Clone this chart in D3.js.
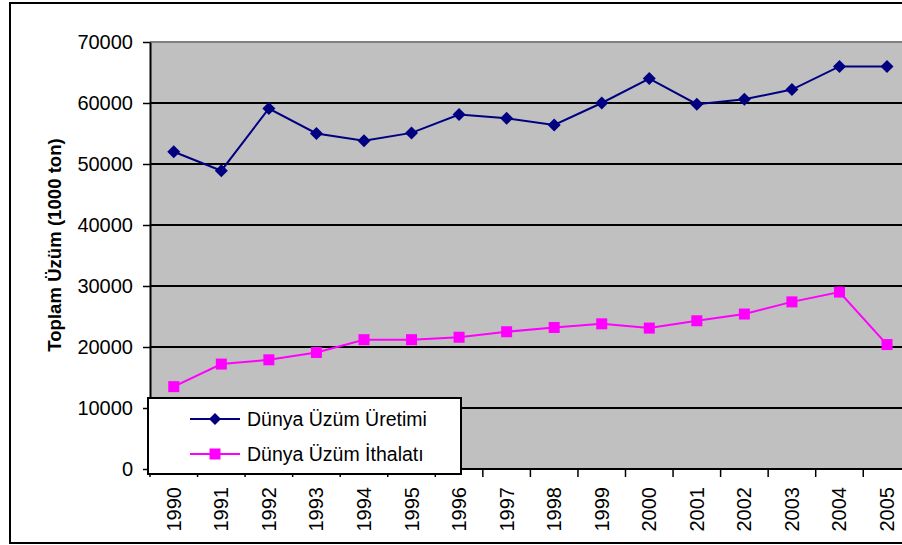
<!DOCTYPE html>
<html>
<head>
<meta charset="utf-8">
<script src="https://cdn.jsdelivr.net/npm/d3@7.9.0/dist/d3.min.js"></script>
<style>
  body { margin: 0; background: #fff; }
  svg text { font-family: "Liberation Sans", Arial, sans-serif; fill: #000; }
</style>
</head>
<body>
<svg width="902" height="545"></svg>
<script>
// data
const years = ['1990','1991','1992','1993','1994','1995','1996','1997','1998','1999','2000','2001','2002','2003','2004','2005'];
const production = [52000, 48900, 59100, 55000, 53800, 55100, 58100, 57500, 56400, 60000, 64000, 59800, 60600, 62200, 66000, 66000];
const imports = [13500, 17200, 17900, 19100, 21200, 21200, 21600, 22500, 23200, 23800, 23100, 24300, 25400, 27400, 29000, 20400];
const yTicks = [0, 10000, 20000, 30000, 40000, 50000, 60000, 70000];
const seriesNames = ['Dünya Üzüm Üretimi', 'Dünya Üzüm İthalatı'];

const svg = d3.select('svg');
const plotL = 150, plotT = 42, plotB = 469, plotR = 150 + 16 * 47.55;

// outer frame
svg.append('rect')
  .attr('x', 10).attr('y', 3).attr('width', 920).attr('height', 540)
  .attr('fill', 'none').attr('stroke', '#000').attr('stroke-width', 2);

const x = d3.scaleBand().domain(years).range([plotL, plotR]);
const y = d3.scaleLinear().domain([0, 70000]).range([plotB, plotT]);

// plot area
svg.append('rect')
  .attr('x', plotL).attr('y', plotT).attr('width', plotR - plotL).attr('height', plotB - plotT)
  .attr('fill', '#c0c0c0');
svg.append('line')
  .attr('x1', plotL).attr('x2', plotR).attr('y1', plotT).attr('y2', plotT)
  .attr('stroke', '#808080').attr('stroke-width', 2);

// gridlines
svg.append('g').selectAll('line')
  .data(yTicks.filter(d => d > 0 && d < 70000))
  .join('line')
    .attr('x1', plotL).attr('x2', plotR)
    .attr('y1', d => y(d)).attr('y2', d => y(d))
    .attr('stroke', '#000').attr('stroke-width', 2);

// y axis
const yAxis = svg.append('g')
  .attr('transform', `translate(${plotL},0)`)
  .call(d3.axisLeft(y).tickValues(yTicks).tickFormat(d3.format('d')).tickSize(7).tickSizeOuter(0).tickPadding(10));
yAxis.select('.domain').attr('stroke', '#000').attr('stroke-width', 2);
yAxis.selectAll('.tick line').attr('stroke', '#000').attr('stroke-width', 1.5);
yAxis.selectAll('.tick text').attr('font-size', 20).attr('font-family', '"Liberation Sans", Arial, sans-serif');

// x axis
svg.append('line')
  .attr('x1', plotL).attr('x2', plotR).attr('y1', plotB).attr('y2', plotB)
  .attr('stroke', '#000').attr('stroke-width', 2);
svg.append('g').selectAll('line')
  .data(years.concat(['end']))
  .join('line')
    .attr('x1', d => d === 'end' ? plotR : x(d))
    .attr('x2', d => d === 'end' ? plotR : x(d))
    .attr('y1', plotB).attr('y2', plotB + 8)
    .attr('stroke', '#000').attr('stroke-width', 1.5);
svg.append('g').selectAll('text')
  .data(years)
  .join('text')
    .attr('transform', d => `translate(${x(d) + x.bandwidth() / 2 + 7},487) rotate(-90)`)
    .attr('text-anchor', 'end')
    .attr('font-size', 20)
    .text(d => d);

// y title
svg.append('text')
  .attr('transform', 'translate(61,245) rotate(-90)')
  .attr('text-anchor', 'middle')
  .attr('font-size', 18.6)
  .attr('font-weight', 'bold')
  .text('Toplam Üzüm (1000 ton)');

const cx = (d, i) => x(years[i]) + x.bandwidth() / 2;
const line = d3.line().x((d, i) => cx(d, i)).y(d => y(d));

function diamond(g, px, py, s, color) {
  g.append('path')
    .attr('d', `M${px},${py - s}L${px + s},${py}L${px},${py + s}L${px - s},${py}Z`)
    .attr('fill', color);
}

// production series
svg.append('path').datum(production)
  .attr('d', line).attr('fill', 'none').attr('stroke', '#000080').attr('stroke-width', 2);
const gp = svg.append('g');
production.forEach((d, i) => diamond(gp, cx(d, i), y(d), 6.5, '#000080'));

// imports series
svg.append('path').datum(imports)
  .attr('d', line).attr('fill', 'none').attr('stroke', '#ff00ff').attr('stroke-width', 2);
svg.append('g').selectAll('rect')
  .data(imports)
  .join('rect')
    .attr('x', (d, i) => cx(d, i) - 5.5).attr('y', d => y(d) - 5.5)
    .attr('width', 11).attr('height', 11)
    .attr('fill', '#ff00ff');

// legend
const lg = svg.append('g');
lg.append('rect')
  .attr('x', 148).attr('y', 398).attr('width', 313).attr('height', 76)
  .attr('fill', '#fff').attr('stroke', '#000').attr('stroke-width', 2);
const colors = ['#000080', '#ff00ff'];
seriesNames.forEach((name, i) => {
  const ly = 419 + i * 35;
  lg.append('line')
    .attr('x1', 190).attr('x2', 240).attr('y1', ly).attr('y2', ly)
    .attr('stroke', colors[i]).attr('stroke-width', 2);
  if (i === 0) diamond(lg, 215, ly, 6, colors[i]);
  else lg.append('rect').attr('x', 209.5).attr('y', ly - 5.5).attr('width', 11).attr('height', 11).attr('fill', colors[i]);
  lg.append('text')
    .attr('x', 247).attr('y', ly + 7)
    .attr('font-size', 19.5)
    .text(name);
});
</script>
</body>
</html>
